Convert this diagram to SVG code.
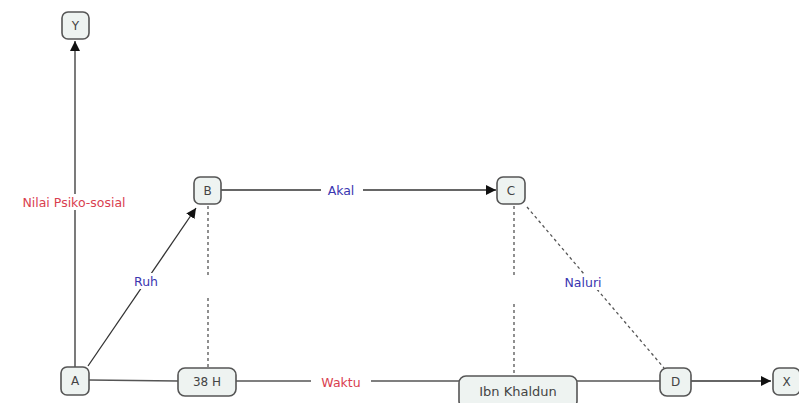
<svg xmlns="http://www.w3.org/2000/svg" width="799" height="403" viewBox="0 0 799 403">
<defs>
<marker id="arr" viewBox="0 0 10 10" refX="10" refY="5" markerWidth="10" markerHeight="10" markerUnits="userSpaceOnUse" orient="auto">
<path d="M0,0 L10,5 L0,10 z" fill="#111"/>
</marker>
<style>
.n rect{fill:#eef3f1;stroke:#555;stroke-width:1.6}
.n text{font-family:"DejaVu Sans",sans-serif;font-size:12px;fill:#444;text-anchor:middle;dominant-baseline:central}
.l{stroke:#555;stroke-width:1.3;fill:none}
.a{stroke:#333;stroke-width:1.3;fill:none;marker-end:url(#arr)}
.d{stroke:#555;stroke-width:1.3;fill:none;stroke-dasharray:3,3}
.lbl{font-family:"DejaVu Sans",sans-serif;font-size:12.5px;text-anchor:middle;dominant-baseline:central}
.red{fill:#d9404f}
.blue{fill:#3a36b0}
</style>
</defs>
<rect width="799" height="403" fill="#fff"/>
<g id="connectors">
<line class="a" x1="75" y1="367" x2="75" y2="41"/>
<line class="a" x1="88" y1="366" x2="196" y2="208"/>
<line class="a" x1="221" y1="190" x2="496" y2="190"/>
<line class="d" x1="208" y1="206" x2="208" y2="276"/>
<line class="d" x1="208" y1="298" x2="208" y2="367"/>
<line class="d" x1="514" y1="206" x2="514" y2="278"/>
<line class="d" x1="514" y1="304" x2="514" y2="375"/>
<line class="d" x1="527" y1="207" x2="664" y2="368"/>
<line class="l" x1="89" y1="380" x2="178" y2="381"/>
<line class="l" x1="236" y1="381" x2="459" y2="381"/>
<line class="l" x1="577" y1="381" x2="660" y2="381"/>
<line class="a" x1="691" y1="381" x2="771" y2="381"/>
<rect x="311" y="373" width="60" height="16" fill="#fff"/>
<text class="lbl red" x="341" y="382">Waktu</text>
<rect x="16" y="194" width="116" height="16" fill="#fff"/>
<text class="lbl red" x="74" y="202">Nilai Psiko-sosial</text>
<rect x="128" y="273" width="36" height="16" fill="#fff"/>
<text class="lbl blue" x="146" y="281">Ruh</text>
<rect x="321" y="182" width="42" height="16" fill="#fff"/>
<text class="lbl blue" x="341" y="190">Akal</text>
<rect x="557" y="274" width="52" height="16" fill="#fff"/>
<text class="lbl blue" x="583" y="282">Naluri</text>
</g>
<g id="Y" class="n"><rect x="62" y="12" width="27" height="27" rx="6"/><text x="75.5" y="25.5">Y</text></g>
<g id="B" class="n"><rect x="194" y="177" width="27" height="27" rx="6"/><text x="207.5" y="190.5">B</text></g>
<g id="C" class="n"><rect x="497" y="177" width="28" height="27" rx="6"/><text x="511" y="190.5">C</text></g>
<g id="A" class="n"><rect x="61" y="367" width="28" height="28" rx="6"/><text x="75" y="381">A</text></g>
<g id="H38" class="n"><rect x="178" y="368" width="58" height="28" rx="7"/><text x="207" y="382">38 H</text></g>
<g id="IbnKhaldun" class="n"><rect x="459" y="376" width="118" height="32" rx="7"/><text x="518" y="391" style="font-size:13px">Ibn Khaldun</text></g>
<g id="D" class="n"><rect x="660" y="368" width="31" height="28" rx="7"/><text x="675.5" y="382">D</text></g>
<g id="X" class="n"><rect x="773" y="368" width="27" height="27" rx="6"/><text x="786.5" y="381.5">X</text></g>
</svg>
